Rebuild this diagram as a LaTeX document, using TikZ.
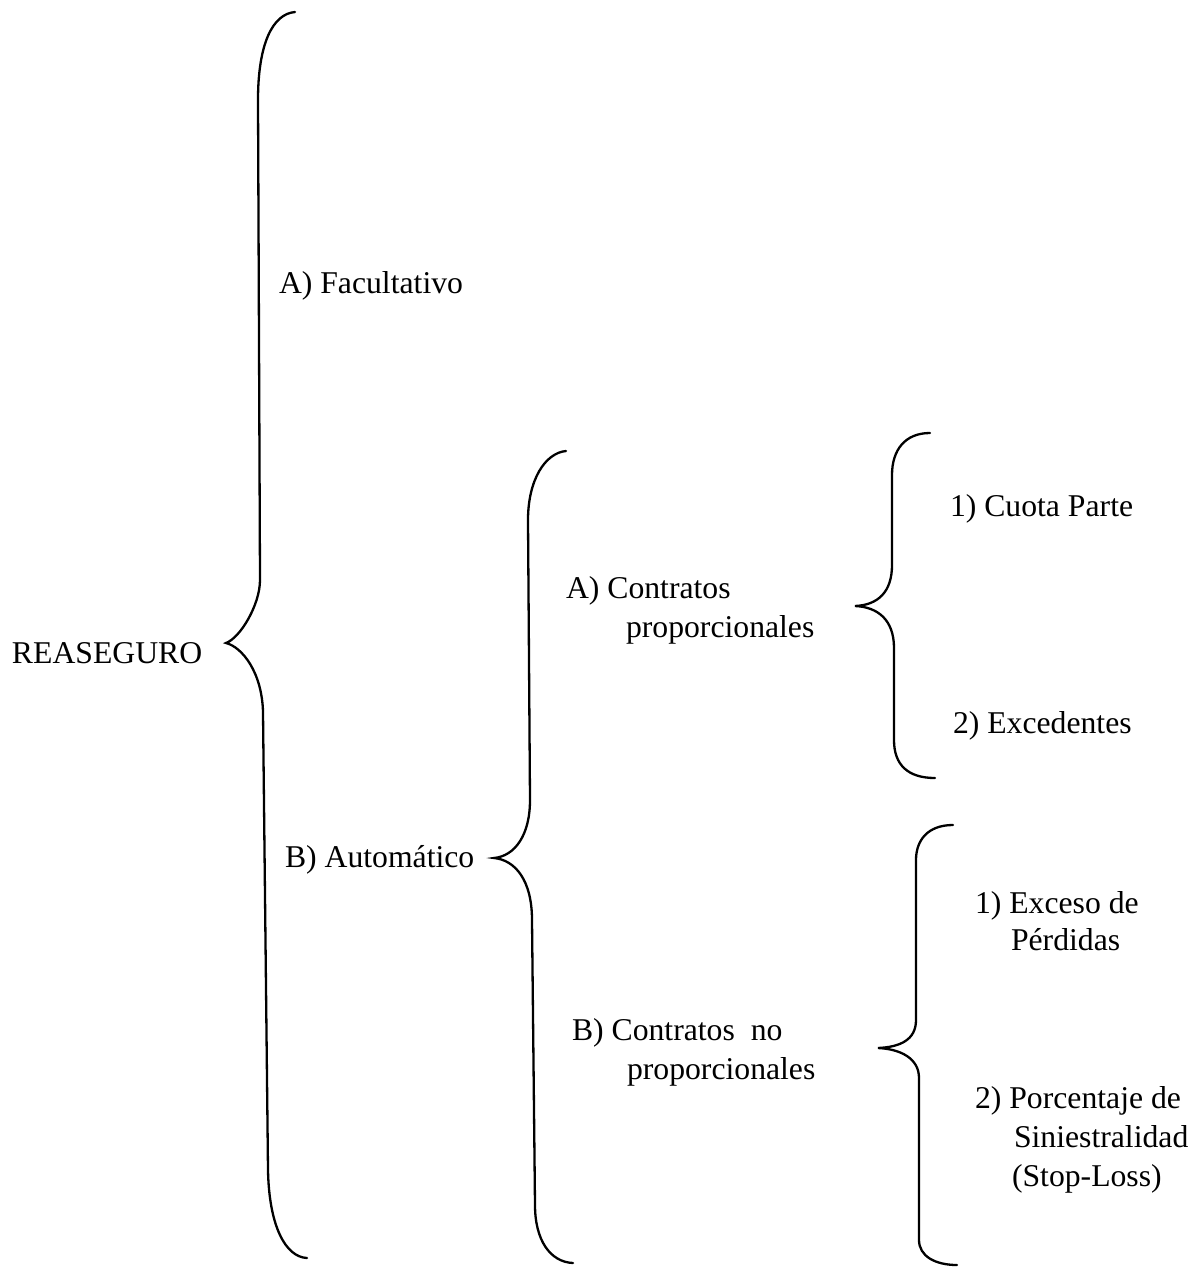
\documentclass[tikz,border=0pt]{standalone}
\usepackage{fontspec}
\setmainfont{Liberation Serif}
\begin{document}
\begin{tikzpicture}[x=1pt,y=-1pt,
  lbl/.style={anchor=base west,inner sep=0pt,outer sep=0pt,font=\fontsize{31.7}{39}\selectfont},
  bracestroke/.style={line width=2.3pt,line cap=round,line join=miter}]
\useasboundingbox (0,0) rectangle (1198,1267);
% braces
\draw[bracestroke] (295,12) .. controls (272,14) and (258,45) .. (258,100) -- (260,580)
  .. controls (260,605) and (240,638) .. (226,643)
  .. controls (242,647) and (262,672) .. (263,712) -- (268,1170)
  .. controls (269,1225) and (285,1257) .. (307,1258);
\draw[bracestroke] (566,451) .. controls (545,453) and (528,480) .. (528,520) -- (530,800)
  .. controls (530,835) and (515,856) .. (494,858)
  .. controls (515,860) and (532,880) .. (532,920) -- (535,1205)
  .. controls (535,1240) and (550,1262) .. (573,1263);
\draw[bracestroke] (930,433) .. controls (905,433) and (892,450) .. (892,475) -- (892,565)
  .. controls (892,592) and (878,605) .. (855,606)
  .. controls (878,607) and (894,620) .. (894,648) -- (894,740)
  .. controls (894,765) and (908,778) .. (935,778);
\draw[bracestroke] (953,825) .. controls (928,825) and (916,840) .. (916,860) -- (916,1020)
  .. controls (916,1040) and (900,1047) .. (878,1048)
  .. controls (900,1049) and (919,1058) .. (919,1078) -- (919,1240)
  .. controls (919,1256) and (935,1265) .. (957,1265);
% labels
\node[lbl] (reaseguro) at (12,663) {REASEGURO};
\node[lbl] (facult) at (279,293) {A) Facultativo};
\node[lbl] (autom) at (285,867) {B) Automático};
\node[lbl] (cpa) at (566,598) {A) Contratos};
\node[lbl] (cpb) at (626,637) {proporcionales};
\node[lbl] (cuota) at (950,516) {1) Cuota Parte};
\node[lbl] (exced) at (953,733) {2) Excedentes};
\node[lbl] (exa) at (975,913) {1) Exceso de};
\node[lbl] (exb) at (1011,950) {Pérdidas};
\node[lbl] (cna) at (572,1040) {B) Contratos\ \ no};
\node[lbl] (cnb) at (627,1079) {proporcionales};
\node[lbl] (pca) at (975,1108) {2) Porcentaje de};
\node[lbl] (pcb) at (1014,1147) {Siniestralidad};
\node[lbl] (pcc) at (1012,1186) {(Stop-Loss)};
\end{tikzpicture}
\end{document}
